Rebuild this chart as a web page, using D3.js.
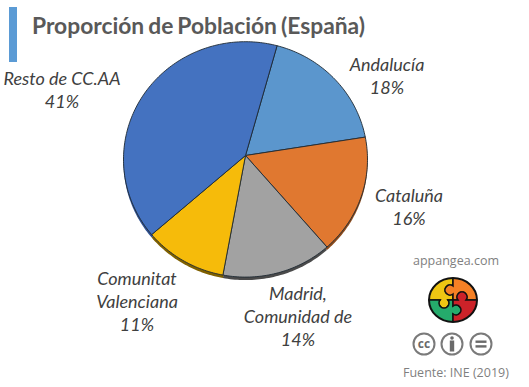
<!DOCTYPE html>
<html lang="en">
<head>
<meta charset="utf-8" />
<title>Proporción de Población</title>
<script src="https://cdn.jsdelivr.net/npm/d3@7"></script>
<style>
  body { margin: 0; background: #fff; }
  svg { display: block; }
  .label { font: italic 18px Lato, sans-serif; fill: #404040; text-anchor: middle; }
  .title { font: bold 22.5px Lato, sans-serif; fill: #595959; word-spacing: -1.5px; }
  .small { font: 12.5px "Open Sans", sans-serif; fill: #7f7f7f; }
</style>
</head>
<body>
<div id="chart"></div>
<script>
const regions = ['Andalucía', 'Cataluña', 'Madrid, Comunidad de', 'Comunitat Valenciana', 'Resto de CC.AA'];
// shares
const shares = [17.8, 16.4, 14.6, 11, 40.2];
const shareLabels = ['18%', '16%', '14%', '11%', '41%'];
const colors = ['#5b96cd', '#e07830', '#a2a2a2', '#f6bb0a', '#4472c0'];
const darkColors = ['#3a6590', '#8a4a1c', '#4a4a4a', '#7f6000', '#2f5090'];
// label lines, one list per region
const labelLines = [['Andalucía'], ['Cataluña'], ['Madrid,', 'Comunidad de'], ['Comunitat', 'Valenciana'], ['Resto de CC.AA']];
const labelAt = [[387, 71], [409, 202], [298, 300], [137, 285], [62, 85]];

const W = 529, H = 387;
const cx = 245.5, cy = 159.4, rx = 122, ry = 117.7;
const apex = [245.5, 155.5];   // the tilted pie has its tip above the ellipse centre

const svg = d3.select('#chart').append('svg').attr('width', W).attr('height', H);

// title block
svg.append('rect').attr('x', 9).attr('y', 7).attr('width', 8).attr('height', 55).attr('fill', '#5b9bd5');
svg.append('text').attr('class', 'title').attr('x', 32).attr('y', 34).attr('textLength', 333)
  .attr('lengthAdjust', 'spacingAndGlyphs').text('Proporción de Población (España)');

const pie = d3.pie().sort(null).startAngle(15 * Math.PI / 180).endAngle(375 * Math.PI / 180);
const arcs = pie(shares);

function rim(a0, a1) {
  const n = Math.ceil((a1 - a0) / 0.02);
  return d3.range(n + 1).map(i => {
    const t = a0 + (a1 - a0) * i / n;
    return [cx + rx * Math.sin(t), cy - ry * Math.cos(t)];
  });
}
const line = d3.line();

// thin side wall, only shows at the bottom
svg.append('g').attr('transform', 'translate(0,3)').selectAll('path')
  .data(arcs).join('path')
  .attr('d', d => line([apex, ...rim(d.startAngle, d.endAngle)]) + 'Z')
  .attr('fill', (d, i) => darkColors[i]);

svg.append('g').selectAll('path')
  .data(arcs).join('path')
  .attr('d', d => line([apex, ...rim(d.startAngle, d.endAngle)]) + 'Z')
  .attr('fill', (d, i) => colors[i])
  .attr('stroke', '#1f2a33').attr('stroke-width', 0.9).attr('stroke-linejoin', 'round');

// labels
const labels = svg.append('g').selectAll('text').data(arcs).join('text')
  .attr('class', 'label')
  .attr('transform', (d, i) => `translate(${labelAt[i][0]},${labelAt[i][1]})`);
labels.each(function (d, i) {
  const t = d3.select(this);
  labelLines[i].concat(shareLabels[i]).forEach((s, k) => {
    t.append('tspan').attr('x', 0).attr('y', k * 23).text(s);
  });
});

// site text + source
svg.append('text').attr('class', 'small').attr('x', 413).attr('y', 265).text('appangea.com');
svg.append('text').attr('class', 'small').attr('x', 403).attr('y', 377).text('Fuente: INE (2019)');

// puzzle logo, four pieces locking into each other
const logo = svg.append('g').attr('transform', 'translate(453,300)');
const lrx = 24, lry = 22;
logo.append('clipPath').attr('id', 'lc').append('ellipse').attr('rx', lrx).attr('ry', lry);
const tab = 'A5,5 0 1 ';
const pieces = [
  ['#eec513', `M-30,-30H0V-14${tab}0 0,-6V0H-5${tab}1 -13,0H-30Z`],
  ['#f58025', `M0,-30H30V0H13${tab}0 5,0H0V-6${tab}1 0,-14Z`],
  ['#25ab6c', `M-30,0H-13${tab}0 -5,0H0V6${tab}1 0,14V30H-30Z`],
  ['#cc2229', `M0,0H5${tab}1 13,0H30V30H0V14${tab}0 0,6Z`]
];
logo.append('g').attr('clip-path', 'url(#lc)').selectAll('path').data(pieces).join('path')
  .attr('d', d => d[1]).attr('fill', d => d[0]).attr('stroke', '#111').attr('stroke-width', 1.5);
logo.append('ellipse').attr('rx', lrx).attr('ry', lry).attr('fill', 'none').attr('stroke', '#111').attr('stroke-width', 2);

// cc badges
const badges = [['cc', 424], ['by', 452], ['nd', 481]];
const bg = svg.append('g').selectAll('g').data(badges).join('g')
  .attr('transform', d => `translate(${d[1]},344)`);
bg.append('circle').attr('r', 10.5).attr('fill', '#fff').attr('stroke', '#7a7a7a').attr('stroke-width', 2);
bg.filter(d => d[0] === 'cc').append('text').attr('text-anchor', 'middle').attr('y', 4)
  .style('font', 'bold 12px "Open Sans", sans-serif').attr('fill', '#6a6a6a').text('cc');
const by = bg.filter(d => d[0] === 'by');
by.append('circle').attr('cy', -6).attr('r', 1.8).attr('fill', '#6a6a6a');
by.append('rect').attr('x', -2.2).attr('y', -3.5).attr('width', 4.4).attr('height', 11).attr('fill', '#6a6a6a');
const nd = bg.filter(d => d[0] === 'nd');
nd.append('rect').attr('x', -5.5).attr('y', -3.5).attr('width', 11).attr('height', 2.4).attr('fill', '#6a6a6a');
nd.append('rect').attr('x', -5.5).attr('y', 1.2).attr('width', 11).attr('height', 2.4).attr('fill', '#6a6a6a');
</script>
</body>
</html>
